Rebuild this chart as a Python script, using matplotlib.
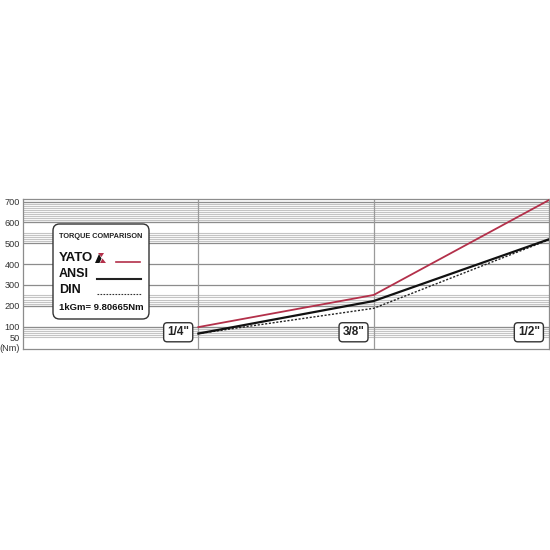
import matplotlib
matplotlib.use('Agg')
import matplotlib.pyplot as plt
from matplotlib.patches import FancyBboxPatch, Polygon
from matplotlib.lines import Line2D

plt.rcParams['font.family'] = ['Liberation Sans Narrow', 'Liberation Sans', 'DejaVu Sans']

# data (Nm)
sizes = ['1/4"', '3/8"', '1/2"']
yato = [98, 252, 707]
ansi = [67, 223, 519]
din = [67, 188, 517]

y_ticks = [0, 50, 100, 200, 300, 400, 500, 600, 700]
y_labels = ['(Nm)', '50', '100', '200', '300', '400', '500', '600', '700']
major_lines = [100, 200, 300, 400, 500, 600, 700]
minor_bands = [(50, 100), (200, 250), (510, 550), (600, 700)]

C_RED = '#b3304a'
W = H = 550


def fx(px):
    return px / W


def fy(py):
    return 1 - py / H


fig = plt.figure(figsize=(5.5, 5.5), dpi=100)
fig.patch.set_facecolor('white')
ax = fig.add_axes([fx(23), fy(349), fx(549) - fx(23), fy(199) - fy(349)])
ax.set_xlim(-1, 2)
ax.set_ylim(-7, 712)

# grid
for lo, hi in minor_bands:
    for v in range(lo, hi + 1, 10):
        ax.axhline(v, color='#c4c4c4', lw=0.8, zorder=1)
for v in major_lines:
    ax.axhline(v, color='#8c8c8c', lw=0.9, zorder=1.5)
for i in range(len(sizes) - 1):
    ax.axvline(i, color='#9a9a9a', lw=0.9, zorder=1.5)

xs = list(range(len(sizes)))
ax.plot(xs, din, color='#222222', lw=1.0, ls=(0, (1.5, 1.2)), zorder=3)
ax.plot(xs, ansi, color='#111111', lw=1.6, zorder=4)
ax.plot(xs, yato, color=C_RED, lw=1.3, zorder=5)

ax.set_xticks([])
ax.set_yticks(y_ticks)
ax.set_yticklabels(y_labels, fontsize=6.6, color='#333333')
ax.tick_params(axis='y', length=0, pad=2.2)
for s in ax.spines.values():
    s.set_color('#8c8c8c')
    s.set_linewidth(0.9)

# size labels in rounded boxes
for i, lab in enumerate(sizes):
    ax.annotate(lab, xy=(i, 0), xycoords='data', xytext=(-14.5, 11),
                textcoords='offset points', ha='center', va='center',
                fontsize=8.5, fontweight='bold', color='#222222', zorder=6,
                bbox=dict(boxstyle='round,pad=0.3,rounding_size=0.3',
                          fc='white', ec='#333333', lw=1.0))

# legend box
fig.add_artist(FancyBboxPatch((fx(53), fy(319)), fx(149) - fx(53), fy(224) - fy(319),
                              boxstyle='round,pad=0,rounding_size=0.012',
                              transform=fig.transFigure, fc='white', ec='#333333',
                              lw=1.0, zorder=10))
fig.text(fx(59), fy(237), 'TORQUE COMPARISON', fontsize=5.3, fontweight='bold',
         color='#222222', va='center', ha='left', zorder=11)
fig.text(fx(59), fy(258), 'YATO', fontsize=9.5, fontweight='bold',
         color='#111111', va='center', ha='left', zorder=11)
fig.text(fx(59), fy(274), 'ANSI', fontsize=9, fontweight='bold',
         color='#111111', va='center', ha='left', zorder=11)
fig.text(fx(59), fy(290), 'DIN', fontsize=9, fontweight='bold',
         color='#111111', va='center', ha='left', zorder=11)
fig.text(fx(59), fy(308), '1kGm= 9.80665Nm', fontsize=6.8, fontweight='bold',
         color='#111111', va='center', ha='left', zorder=11)

# small YATO mark
fig.add_artist(Polygon([(fx(95), fy(263)), (fx(99), fy(254)), (fx(101.5), fy(258.5)), (fx(99.5), fy(263))],
                       closed=True, transform=fig.transFigure, fc='#111111', ec='none', zorder=11))
fig.add_artist(Polygon([(fx(100), fy(263)), (fx(102.5), fy(258.5)), (fx(106), fy(263))],
                       closed=True, transform=fig.transFigure, fc=C_RED, ec='none', zorder=11))
fig.add_artist(Polygon([(fx(98), fy(253)), (fx(104), fy(253)), (fx(101.5), fy(257))],
                       closed=True, transform=fig.transFigure, fc=C_RED, ec='none', zorder=11))

# legend samples
fig.add_artist(Line2D([fx(116), fx(140)], [fy(262), fy(262)], transform=fig.transFigure,
                      color=C_RED, lw=1.2, zorder=11))
fig.add_artist(Line2D([fx(97), fx(141)], [fy(279), fy(279)], transform=fig.transFigure,
                      color='#222222', lw=1.5, zorder=11))
fig.add_artist(Line2D([fx(97), fx(141)], [fy(294), fy(294)], transform=fig.transFigure,
                      color='#333333', lw=0.8, ls=(0, (1.5, 1.2)), zorder=11))

fig.savefig('out.png', dpi=100, facecolor='white')
